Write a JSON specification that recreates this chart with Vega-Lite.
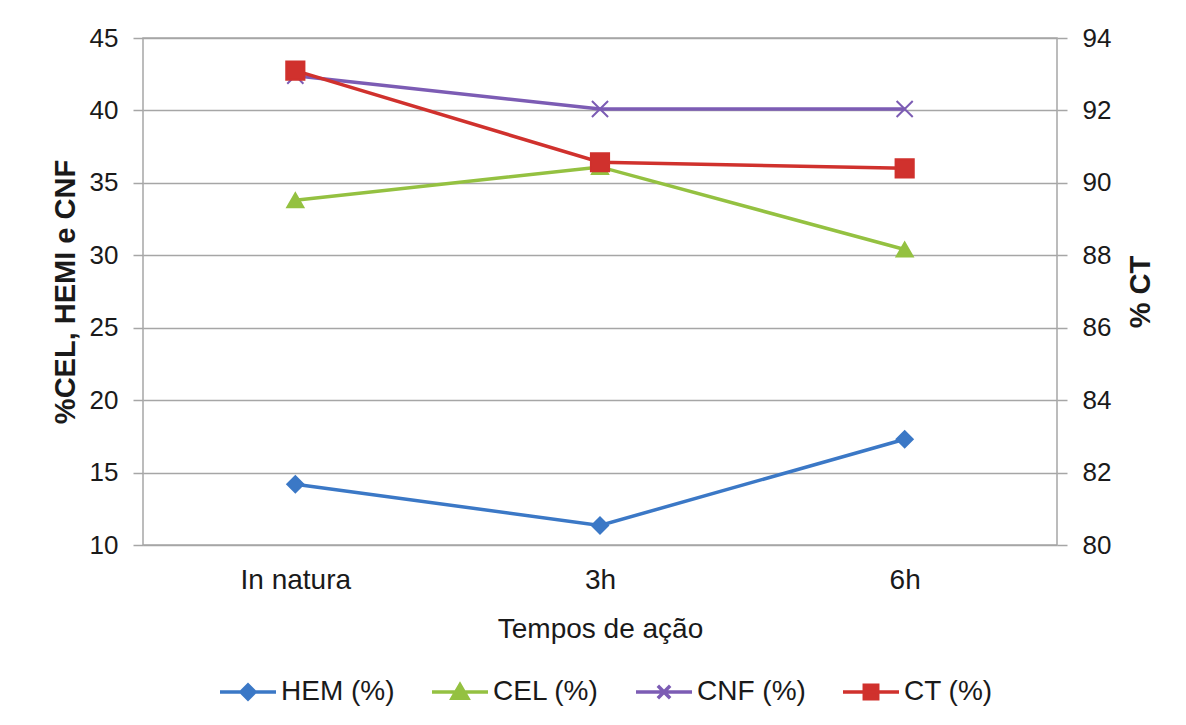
{
  "$schema": "https://vega.github.io/schema/vega-lite/v6.json",
  "width": 914,
  "height": 507,
  "autosize": {"type": "none"},
  "padding": {"left": 143, "top": 38, "right": 129, "bottom": 180},
  "background": "white",
  "config": {
    "font": "Liberation Sans",
    "view": {"stroke": "#a6a6a6", "strokeWidth": 1.5},
    "axis": {"labelFont": "Liberation Sans", "titleFont": "Liberation Sans", "labelColor": "#1a1a1a", "titleColor": "#1a1a1a"},
    "legend": {
      "labelFont": "Liberation Sans",
      "labelFontSize": 28,
      "labelColor": "#1a1a1a",
      "labelOffset": 3,
      "columnPadding": 30,
      "symbolSize": 3136,
      "symbolStrokeWidth": 3.5,
      "symbolOpacity": 1
    }
  },
  "data": {
    "values": [
      {"tempo": "In natura", "serie": "HEM (%)", "valor": 14.2},
      {"tempo": "3h", "serie": "HEM (%)", "valor": 11.35},
      {"tempo": "6h", "serie": "HEM (%)", "valor": 17.3},
      {"tempo": "In natura", "serie": "CEL (%)", "valor": 33.8},
      {"tempo": "3h", "serie": "CEL (%)", "valor": 36.1},
      {"tempo": "6h", "serie": "CEL (%)", "valor": 30.4},
      {"tempo": "In natura", "serie": "CNF (%)", "valor": 42.4},
      {"tempo": "3h", "serie": "CNF (%)", "valor": 40.1},
      {"tempo": "6h", "serie": "CNF (%)", "valor": 40.1},
      {"tempo": "In natura", "serie": "CT (%)", "valor": 93.1},
      {"tempo": "3h", "serie": "CT (%)", "valor": 90.57},
      {"tempo": "6h", "serie": "CT (%)", "valor": 90.4}
    ]
  },
  "encoding": {
    "x": {
      "field": "tempo",
      "type": "nominal",
      "sort": ["In natura", "3h", "6h"],
      "scale": {"padding": 0.5},
      "axis": {
        "title": "Tempos de ação",
        "labelAngle": 0,
        "labelFontSize": 28,
        "titleFontSize": 28,
        "titleFontWeight": "normal",
        "ticks": false,
        "domain": false,
        "labelPadding": 21,
        "titlePadding": 21,
        "grid": false
      }
    }
  },
  "layer": [
    {
      "transform": [{"filter": "datum.serie !== 'CT (%)'"}],
      "encoding": {
        "y": {
          "field": "valor",
          "type": "quantitative",
          "scale": {"domain": [10, 45], "nice": false, "zero": false},
          "axis": {
            "orient": "left",
            "title": "%CEL, HEMI e CNF",
            "titleFontSize": 29,
            "titleFontWeight": "bold",
            "titleAngle": -90,
            "titleX": -78,
            "titleBaseline": "middle",
            "titleAlign": "center",
            "labelFontSize": 26,
            "values": [10, 15, 20, 25, 30, 35, 40, 45],
            "tickSize": 10,
            "tickColor": "#a6a6a6",
            "tickWidth": 1.5,
            "labelPadding": 15,
            "domain": false,
            "grid": true,
            "gridColor": "#a6a6a6",
            "gridWidth": 1.5
          }
        },
        "color": {
          "field": "serie",
          "type": "nominal",
          "scale": {"domain": ["HEM (%)", "CEL (%)", "CNF (%)", "CT (%)"], "range": ["#3b78c6", "#94c141", "#7c5cb4", "#d0312d"]},
          "legend": null
        }
      },
      "layer": [
        {"mark": {"type": "line", "strokeWidth": 3.5}},
        {
          "mark": {"type": "point", "filled": true, "opacity": 1, "strokeWidth": 2},
          "encoding": {
            "shape": {
              "field": "serie",
              "scale": {"domain": ["HEM (%)", "CEL (%)", "CNF (%)", "CT (%)"], "range": ["diamond", "triangle-up", "M-1,-1L1,1M-1,1L1,-1", "square"]},
              "legend": null
            },
            "stroke": {
              "field": "serie",
              "scale": {"domain": ["HEM (%)", "CEL (%)", "CNF (%)", "CT (%)"], "range": ["#3b78c6", "#94c141", "#7c5cb4", "#d0312d"]},
              "legend": null
            },
            "size": {"value": 260}
          }
        }
      ]
    },
    {
      "transform": [{"filter": "datum.serie === 'CT (%)'"}],
      "encoding": {
        "y": {
          "field": "valor",
          "type": "quantitative",
          "scale": {"domain": [80, 94], "nice": false, "zero": false},
          "axis": {
            "orient": "right",
            "title": "% CT",
            "titleFontSize": 29,
            "titleFontWeight": "bold",
            "titleAngle": -90,
            "titleX": 83,
            "titleBaseline": "middle",
            "titleAlign": "center",
            "labelFontSize": 26,
            "values": [80, 82, 84, 86, 88, 90, 92, 94],
            "tickSize": 10,
            "tickColor": "#a6a6a6",
            "tickWidth": 1.5,
            "labelPadding": 15,
            "domain": false,
            "grid": false
          }
        },
        "color": {
          "field": "serie",
          "type": "nominal",
          "scale": {"domain": ["HEM (%)", "CEL (%)", "CNF (%)", "CT (%)"], "range": ["#3b78c6", "#94c141", "#7c5cb4", "#d0312d"]},
          "legend": null
        }
      },
      "layer": [
        {"mark": {"type": "line", "strokeWidth": 3.5}},
        {
          "mark": {"type": "point", "filled": true, "opacity": 1, "strokeWidth": 2},
          "encoding": {
            "shape": {
              "field": "serie",
              "scale": {"domain": ["HEM (%)", "CEL (%)", "CNF (%)", "CT (%)"], "range": ["diamond", "triangle-up", "M-1,-1L1,1M-1,1L1,-1", "square"]},
              "legend": null
            },
            "stroke": {
              "field": "serie",
              "scale": {"domain": ["HEM (%)", "CEL (%)", "CNF (%)", "CT (%)"], "range": ["#3b78c6", "#94c141", "#7c5cb4", "#d0312d"]},
              "legend": null
            },
            "size": {"value": 330}
          }
        }
      ]
    },
    {
      "transform": [{"filter": "false"}],
      "mark": {"type": "point", "filled": true, "opacity": 1},
      "encoding": {
        "color": {
          "field": "serie",
          "type": "nominal",
          "scale": {"domain": ["HEM (%)", "CEL (%)", "CNF (%)", "CT (%)"], "range": ["#3b78c6", "#94c141", "#7c5cb4", "#d0312d"]},
          "legend": {"title": null, "orient": "none", "direction": "horizontal", "legendX": 75, "legendY": 624}
        },
        "stroke": {
          "field": "serie",
          "type": "nominal",
          "scale": {"domain": ["HEM (%)", "CEL (%)", "CNF (%)", "CT (%)"], "range": ["#3b78c6", "#94c141", "#7c5cb4", "#d0312d"]},
          "legend": {"title": null, "orient": "none", "direction": "horizontal", "legendX": 75, "legendY": 624}
        },
        "shape": {
          "field": "serie",
          "type": "nominal",
          "scale": {
            "domain": ["HEM (%)", "CEL (%)", "CNF (%)", "CT (%)"],
            "range": [
              "M-1,0H1M0,-0.25L0.25,0L0,0.25L-0.25,0Z",
              "M-1,0H1M-0.28,0.22L0,-0.26L0.28,0.22Z",
              "M-1,0H1M-0.22,-0.22L0.22,0.22M-0.22,0.22L0.22,-0.22",
              "M-1,0H1M-0.24,-0.24H0.24V0.24H-0.24Z"
            ]
          },
          "legend": {"title": null, "orient": "none", "direction": "horizontal", "legendX": 75, "legendY": 624}
        }
      }
    }
  ],
  "resolve": {"scale": {"y": "independent", "color": "independent", "stroke": "independent", "shape": "independent"}}
}
